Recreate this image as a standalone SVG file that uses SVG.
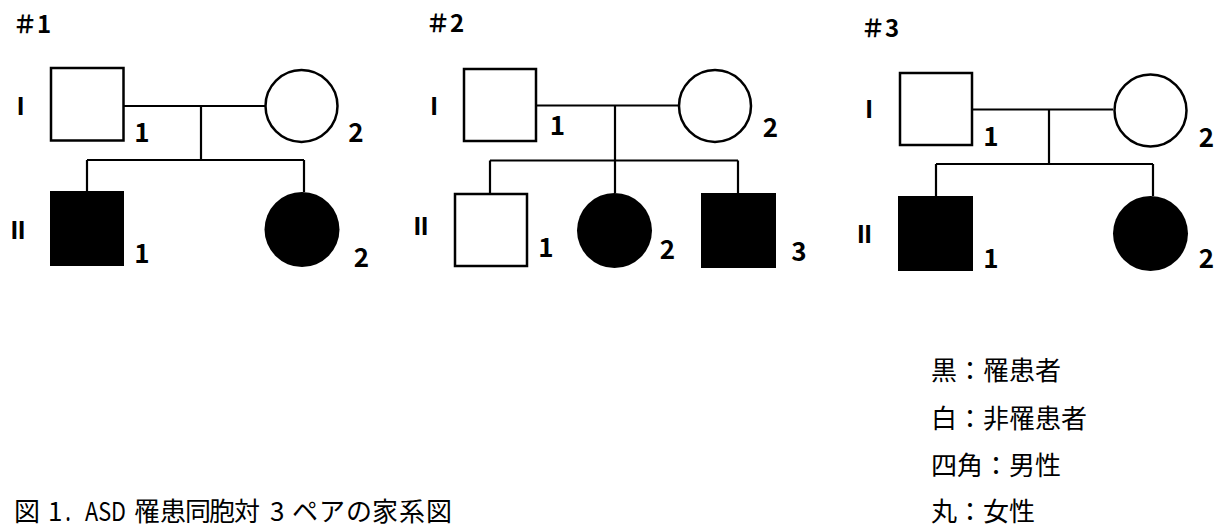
<svg xmlns="http://www.w3.org/2000/svg" width="1219" height="526" viewBox="0 0 1219 526">
<style>
.o{fill:#fff;stroke:#000;stroke-width:2.5}
.f{fill:#000;stroke:none}
.ln{stroke:#000;stroke-width:2.2;fill:none}
.num{font-family:"Noto Sans CJK JP","Noto Sans",sans-serif;font-size:26px;font-weight:bold;text-anchor:middle;fill:#000}
.gen{font-family:"Liberation Sans","DejaVu Sans",sans-serif;font-size:26px;font-weight:bold;text-anchor:middle;fill:#000}
.hd{font-family:"Noto Sans CJK JP",sans-serif;font-size:24px;font-weight:bold;fill:#000}
.jp{font-family:"Noto Sans CJK JP",sans-serif;font-size:26px;fill:#000}
.cap{font-family:"Noto Sans CJK JP",sans-serif;font-size:26px;fill:#000}
</style>
<rect width="1219" height="526" fill="#fff"/>
<g id="connectors">
<path class="ln" d="M124 106H265M201 106V160M87 160H304M87 160V191M304 160V192"/>
<path class="ln" d="M537 105.5H678M615 105.5V193M490 160.5H738M490 160.5V193M738 160.5V193"/>
<path class="ln" d="M972 109.5H1113M1049 109.5V164M936 164H1153M936 164V196M1153 164V196"/>
</g>
<g id="ped1">
<text class="hd" x="13" y="33">＃1</text>
<text class="gen" x="20.5" y="115">I</text>
<text class="gen" x="18" y="239">II</text>
<g id="p1-I1"><rect class="o" x="51" y="68" width="72.5" height="72.5"/><text class="num" x="142" y="142">1</text></g>
<g id="p1-I2"><circle class="o" cx="301.5" cy="106" r="36"/><text class="num" x="356" y="142">2</text></g>
<g id="p1-II1"><rect class="f" x="50" y="191" width="74" height="75"/><text class="num" x="142" y="263">1</text></g>
<g id="p1-II2"><circle class="f" cx="302" cy="229.5" r="37.5"/><text class="num" x="361.5" y="267">2</text></g>
</g>
<g id="ped2">
<text class="hd" x="426" y="32">＃2</text>
<text class="gen" x="434" y="115">I</text>
<text class="gen" x="421" y="235">II</text>
<g id="p2-I1"><rect class="o" x="464" y="69" width="72" height="72"/><text class="num" x="557.5" y="135">1</text></g>
<g id="p2-I2"><circle class="o" cx="715" cy="106" r="36"/><text class="num" x="770.5" y="137">2</text></g>
<g id="p2-II1"><rect class="o" x="455" y="194" width="72" height="72"/><text class="num" x="546" y="257">1</text></g>
<g id="p2-II2"><circle class="f" cx="614.5" cy="230.5" r="37.5"/><text class="num" x="667.5" y="258.5">2</text></g>
<g id="p2-II3"><rect class="f" x="701" y="193" width="75" height="75"/><text class="num" x="799" y="261">3</text></g>
</g>
<g id="ped3">
<text class="hd" x="861" y="37">＃3</text>
<text class="gen" x="869" y="118">I</text>
<text class="gen" x="864.5" y="243">II</text>
<g id="p3-I1"><rect class="o" x="900" y="73" width="72" height="72"/><text class="num" x="991" y="146">1</text></g>
<g id="p3-I2"><circle class="o" cx="1150.5" cy="110.5" r="36"/><text class="num" x="1206.5" y="147">2</text></g>
<g id="p3-II1"><rect class="f" x="898" y="196" width="75" height="75"/><text class="num" x="991" y="268">1</text></g>
<g id="p3-II2"><circle class="f" cx="1150.5" cy="233.5" r="37.5"/><text class="num" x="1206.5" y="268">2</text></g>
</g>
<g id="legend">
<text class="jp" x="931" y="380">黒：罹患者</text>
<text class="jp" x="931" y="428">白：非罹患者</text>
<text class="jp" x="931" y="475">四角：男性</text>
<text class="jp" x="931" y="521">丸：女性</text>
</g>
<g id="caption">
<text class="cap" y="521"><tspan x="14">図</tspan><tspan x="48">1</tspan><tspan x="64" textLength="17" lengthAdjust="spacingAndGlyphs">．</tspan><tspan x="85" textLength="41" lengthAdjust="spacingAndGlyphs">ASD</tspan><tspan x="134 160 185 209 234">罹患同胞対</tspan><tspan x="270">3</tspan><tspan x="292 319 346 372 399 426">ペアの家系図</tspan></text>
</g>
</svg>
